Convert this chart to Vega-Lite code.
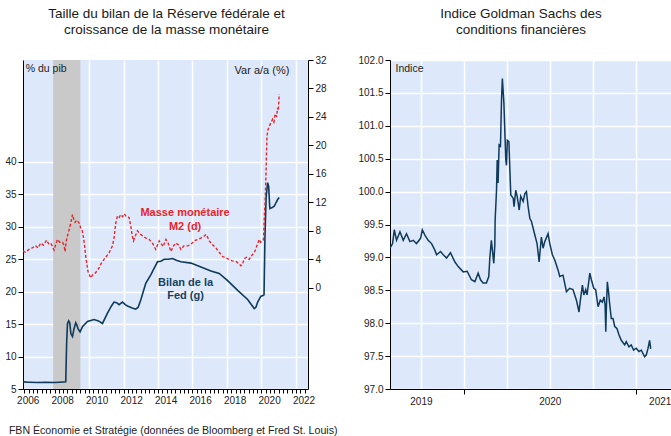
{
  "$schema": "https://vega.github.io/schema/vega-lite/v6.json",
  "padding": {"left": 4, "top": 6, "right": 0, "bottom": 4},
  "background": "#ffffff",
  "config": {
    "font": "Liberation Sans",
    "view": {"fill": "#dde9fb", "stroke": null},
    "axis": {"labelFont": "Liberation Sans", "labelFontSize": 10, "labelColor": "#222222", "domainColor": "#000000", "domainWidth": 1, "tickColor": "#000000", "tickSize": 5, "labelPadding": 2, "gridColor": "#ffffff", "gridWidth": 1.5, "labelOverlap": false},
    "title": {"font": "Liberation Sans", "fontSize": 13.5, "fontWeight": "normal", "color": "#1a1a1a", "lineHeight": 16},
    "concat": {"spacing": 30}
  },
  "title": {"text": "FBN Économie et Stratégie (données de Bloomberg et Fred St. Louis)", "orient": "bottom", "anchor": "start", "fontSize": 10.6, "fontWeight": "normal", "color": "#222222", "offset": 20, "dx": 4},
  "datasets": {
    "fed": [
      {"annee": 2006.17, "valeur": 6.1}, {"annee": 2006.5, "valeur": 6.05}, {"annee": 2007.0, "valeur": 6.0}, {"annee": 2007.5, "valeur": 6.05}, {"annee": 2007.97, "valeur": 6.0}, {"annee": 2008.3, "valeur": 6.05}, {"annee": 2008.65, "valeur": 6.1},
      {"annee": 2008.7, "valeur": 12.0}, {"annee": 2008.75, "valeur": 15.1}, {"annee": 2008.82, "valeur": 15.5}, {"annee": 2008.88, "valeur": 15.2}, {"annee": 2008.95, "valeur": 13.5}, {"annee": 2009.04, "valeur": 13.1}, {"annee": 2009.13, "valeur": 14.3}, {"annee": 2009.23, "valeur": 15.2}, {"annee": 2009.3, "valeur": 14.8}, {"annee": 2009.36, "valeur": 14.3}, {"annee": 2009.48, "valeur": 13.8}, {"annee": 2009.62, "valeur": 14.6}, {"annee": 2009.91, "valeur": 15.4},
      {"annee": 2010.29, "valeur": 15.7}, {"annee": 2010.55, "valeur": 15.5}, {"annee": 2010.78, "valeur": 15.1}, {"annee": 2011.07, "valeur": 16.7}, {"annee": 2011.3, "valeur": 17.8}, {"annee": 2011.45, "valeur": 18.4}, {"annee": 2011.6, "valeur": 18.3}, {"annee": 2011.74, "valeur": 18.0}, {"annee": 2011.94, "valeur": 18.4}, {"annee": 2012.1, "valeur": 18.0}, {"annee": 2012.23, "valeur": 17.8}, {"annee": 2012.5, "valeur": 17.5}, {"annee": 2012.71, "valeur": 17.3}, {"annee": 2012.85, "valeur": 17.6},
      {"annee": 2013.0, "valeur": 18.7}, {"annee": 2013.29, "valeur": 21.3}, {"annee": 2013.58, "valeur": 22.6}, {"annee": 2013.97, "valeur": 24.6}, {"annee": 2014.16, "valeur": 24.7}, {"annee": 2014.36, "valeur": 25.0}, {"annee": 2014.6, "valeur": 25.0}, {"annee": 2014.84, "valeur": 25.1}, {"annee": 2015.1, "valeur": 24.8}, {"annee": 2015.33, "valeur": 24.6}, {"annee": 2015.91, "valeur": 24.4}, {"annee": 2016.49, "valeur": 23.8}, {"annee": 2017.07, "valeur": 23.2}, {"annee": 2017.55, "valeur": 22.8}, {"annee": 2018.04, "valeur": 21.7}, {"annee": 2018.62, "valeur": 20.2}, {"annee": 2019.2, "valeur": 18.8}, {"annee": 2019.58, "valeur": 17.4}, {"annee": 2019.68, "valeur": 17.6}, {"annee": 2019.78, "valeur": 18.4}, {"annee": 2019.97, "valeur": 19.3}, {"annee": 2020.1, "valeur": 19.4}, {"annee": 2020.15, "valeur": 19.5},
      {"annee": 2020.2, "valeur": 28.0}, {"annee": 2020.27, "valeur": 34.5}, {"annee": 2020.36, "valeur": 36.8}, {"annee": 2020.42, "valeur": 36.2}, {"annee": 2020.47, "valeur": 33.5}, {"annee": 2020.49, "valeur": 32.8}, {"annee": 2020.65, "valeur": 33.0}, {"annee": 2020.75, "valeur": 33.2}, {"annee": 2020.84, "valeur": 33.7}, {"annee": 2020.94, "valeur": 34.2}, {"annee": 2021.03, "valeur": 34.5}
    ],
    "m2": [
      {"annee": 2006.17, "valeur": 5.2}, {"annee": 2006.3, "valeur": 5.0}, {"annee": 2006.52, "valeur": 5.4}, {"annee": 2006.7, "valeur": 5.6}, {"annee": 2006.91, "valeur": 5.9}, {"annee": 2007.05, "valeur": 5.6}, {"annee": 2007.2, "valeur": 6.3}, {"annee": 2007.35, "valeur": 6.0}, {"annee": 2007.54, "valeur": 6.7}, {"annee": 2007.65, "valeur": 6.2}, {"annee": 2007.78, "valeur": 6.3}, {"annee": 2007.97, "valeur": 5.3}, {"annee": 2008.08, "valeur": 6.2}, {"annee": 2008.17, "valeur": 6.8}, {"annee": 2008.3, "valeur": 6.4}, {"annee": 2008.46, "valeur": 6.4}, {"annee": 2008.55, "valeur": 6.0}, {"annee": 2008.61, "valeur": 5.1}, {"annee": 2008.68, "valeur": 6.6}, {"annee": 2008.75, "valeur": 7.3}, {"annee": 2008.85, "valeur": 8.2}, {"annee": 2008.94, "valeur": 9.1}, {"annee": 2009.04, "valeur": 10.3}, {"annee": 2009.12, "valeur": 9.6}, {"annee": 2009.19, "valeur": 9.2}, {"annee": 2009.28, "valeur": 9.5}, {"annee": 2009.36, "valeur": 9.3}, {"annee": 2009.45, "valeur": 9.0}, {"annee": 2009.52, "valeur": 8.4}, {"annee": 2009.6, "valeur": 8.1}, {"annee": 2009.68, "valeur": 7.0}, {"annee": 2009.75, "valeur": 5.8}, {"annee": 2009.81, "valeur": 4.4}, {"annee": 2009.94, "valeur": 2.3},
      {"annee": 2010.1, "valeur": 1.4}, {"annee": 2010.2, "valeur": 1.8}, {"annee": 2010.29, "valeur": 1.9}, {"annee": 2010.4, "valeur": 2.2}, {"annee": 2010.58, "valeur": 2.8}, {"annee": 2010.7, "valeur": 3.4}, {"annee": 2010.87, "valeur": 4.0}, {"annee": 2011.0, "valeur": 4.4}, {"annee": 2011.16, "valeur": 4.9}, {"annee": 2011.36, "valeur": 5.9}, {"annee": 2011.45, "valeur": 7.0}, {"annee": 2011.55, "valeur": 9.1}, {"annee": 2011.65, "valeur": 10.1}, {"annee": 2011.75, "valeur": 9.9}, {"annee": 2011.84, "valeur": 10.3}, {"annee": 2011.95, "valeur": 10.0}, {"annee": 2012.05, "valeur": 10.4}, {"annee": 2012.13, "valeur": 10.1}, {"annee": 2012.32, "valeur": 9.9}, {"annee": 2012.42, "valeur": 8.7}, {"annee": 2012.5, "valeur": 7.4}, {"annee": 2012.58, "valeur": 6.6}, {"annee": 2012.7, "valeur": 7.4}, {"annee": 2012.81, "valeur": 8.0}, {"annee": 2012.95, "valeur": 7.6},
      {"annee": 2013.1, "valeur": 7.3}, {"annee": 2013.3, "valeur": 7.0}, {"annee": 2013.49, "valeur": 6.8}, {"annee": 2013.7, "valeur": 6.2}, {"annee": 2013.87, "valeur": 5.4}, {"annee": 2014.07, "valeur": 6.6}, {"annee": 2014.16, "valeur": 6.3}, {"annee": 2014.3, "valeur": 5.8}, {"annee": 2014.46, "valeur": 6.8}, {"annee": 2014.6, "valeur": 6.2}, {"annee": 2014.75, "valeur": 5.1}, {"annee": 2014.9, "valeur": 5.9}, {"annee": 2015.04, "valeur": 6.3}, {"annee": 2015.2, "valeur": 6.0}, {"annee": 2015.33, "valeur": 5.4}, {"annee": 2015.5, "valeur": 5.9}, {"annee": 2015.72, "valeur": 5.9}, {"annee": 2015.9, "valeur": 6.1}, {"annee": 2016.1, "valeur": 6.6}, {"annee": 2016.3, "valeur": 6.8}, {"annee": 2016.49, "valeur": 7.0}, {"annee": 2016.65, "valeur": 7.2}, {"annee": 2016.78, "valeur": 7.5}, {"annee": 2016.88, "valeur": 7.1}, {"annee": 2016.97, "valeur": 6.6},
      {"annee": 2017.15, "valeur": 6.1}, {"annee": 2017.36, "valeur": 5.6}, {"annee": 2017.55, "valeur": 5.0}, {"annee": 2017.75, "valeur": 4.4}, {"annee": 2017.95, "valeur": 4.2}, {"annee": 2018.13, "valeur": 4.0}, {"annee": 2018.3, "valeur": 3.8}, {"annee": 2018.52, "valeur": 3.7}, {"annee": 2018.7, "valeur": 3.4}, {"annee": 2018.81, "valeur": 3.1}, {"annee": 2018.9, "valeur": 3.3}, {"annee": 2019.0, "valeur": 4.1}, {"annee": 2019.15, "valeur": 4.3}, {"annee": 2019.29, "valeur": 4.0}, {"annee": 2019.45, "valeur": 4.6}, {"annee": 2019.58, "valeur": 4.9}, {"annee": 2019.72, "valeur": 5.8}, {"annee": 2019.87, "valeur": 6.8}, {"annee": 2019.95, "valeur": 6.4}, {"annee": 2020.07, "valeur": 6.6}, {"annee": 2020.12, "valeur": 6.8},
      {"annee": 2020.16, "valeur": 9.6}, {"annee": 2020.22, "valeur": 12.5}, {"annee": 2020.26, "valeur": 15.7}, {"annee": 2020.32, "valeur": 21.3}, {"annee": 2020.38, "valeur": 22.2}, {"annee": 2020.45, "valeur": 22.7}, {"annee": 2020.55, "valeur": 23.2}, {"annee": 2020.65, "valeur": 23.7}, {"annee": 2020.72, "valeur": 23.3}, {"annee": 2020.78, "valeur": 24.2}, {"annee": 2020.84, "valeur": 24.4}, {"annee": 2020.88, "valeur": 24.0}, {"annee": 2020.94, "valeur": 25.3}, {"annee": 2020.98, "valeur": 24.9}, {"annee": 2021.03, "valeur": 27.2}
    ],
    "fci": [
      {"annee": 2019.570, "valeur": 99.14}, {"annee": 2019.585, "valeur": 99.21}, {"annee": 2019.595, "valeur": 99.42}, {"annee": 2019.608, "valeur": 99.26}, {"annee": 2019.628, "valeur": 99.39}, {"annee": 2019.647, "valeur": 99.26}, {"annee": 2019.666, "valeur": 99.36}, {"annee": 2019.686, "valeur": 99.24}, {"annee": 2019.705, "valeur": 99.26}, {"annee": 2019.724, "valeur": 99.21}, {"annee": 2019.748, "valeur": 99.29}, {"annee": 2019.758, "valeur": 99.42}, {"annee": 2019.773, "valeur": 99.34}, {"annee": 2019.792, "valeur": 99.26}, {"annee": 2019.812, "valeur": 99.21}, {"annee": 2019.831, "valeur": 99.11}, {"annee": 2019.841, "valeur": 99.04}, {"annee": 2019.864, "valeur": 99.09}, {"annee": 2019.880, "valeur": 99.04}, {"annee": 2019.899, "valeur": 98.99}, {"annee": 2019.922, "valeur": 99.07}, {"annee": 2019.948, "valeur": 98.93}, {"annee": 2019.967, "valeur": 98.86}, {"annee": 2019.996, "valeur": 98.78},
      {"annee": 2020.019, "valeur": 98.79}, {"annee": 2020.044, "valeur": 98.66}, {"annee": 2020.064, "valeur": 98.63}, {"annee": 2020.083, "valeur": 98.76}, {"annee": 2020.097, "valeur": 98.66}, {"annee": 2020.112, "valeur": 98.61}, {"annee": 2020.131, "valeur": 98.61}, {"annee": 2020.145, "valeur": 98.71}, {"annee": 2020.151, "valeur": 98.99}, {"annee": 2020.160, "valeur": 99.26}, {"annee": 2020.166, "valeur": 99.11}, {"annee": 2020.174, "valeur": 98.91}, {"annee": 2020.180, "valeur": 99.18}, {"annee": 2020.182, "valeur": 99.57}, {"annee": 2020.190, "valeur": 100.02}, {"annee": 2020.194, "valeur": 100.48}, {"annee": 2020.199, "valeur": 100.13}, {"annee": 2020.205, "valeur": 100.71}, {"annee": 2020.213, "valeur": 100.69}, {"annee": 2020.219, "valeur": 101.39}, {"annee": 2020.224, "valeur": 101.72}, {"annee": 2020.233, "valeur": 101.34}, {"annee": 2020.238, "valeur": 100.94}, {"annee": 2020.244, "valeur": 100.48}, {"annee": 2020.248, "valeur": 100.40}, {"annee": 2020.253, "valeur": 100.78}, {"annee": 2020.262, "valeur": 100.76}, {"annee": 2020.267, "valeur": 100.38}, {"annee": 2020.273, "valeur": 99.95}, {"annee": 2020.287, "valeur": 99.90}, {"annee": 2020.292, "valeur": 99.77}, {"annee": 2020.302, "valeur": 100.02}, {"annee": 2020.310, "valeur": 99.93}, {"annee": 2020.322, "valeur": 99.72}, {"annee": 2020.331, "valeur": 99.93}, {"annee": 2020.345, "valeur": 99.85}, {"annee": 2020.355, "valeur": 99.97}, {"annee": 2020.364, "valeur": 100.00}, {"annee": 2020.374, "valeur": 99.77}, {"annee": 2020.384, "valeur": 99.59}, {"annee": 2020.393, "valeur": 99.55}, {"annee": 2020.413, "valeur": 99.34}, {"annee": 2020.426, "valeur": 99.21}, {"annee": 2020.438, "valeur": 98.93}, {"annee": 2020.451, "valeur": 99.31}, {"annee": 2020.461, "valeur": 99.14}, {"annee": 2020.471, "valeur": 99.24}, {"annee": 2020.490, "valeur": 99.36}, {"annee": 2020.500, "valeur": 99.21}, {"annee": 2020.515, "valeur": 99.04}, {"annee": 2020.529, "valeur": 98.96}, {"annee": 2020.548, "valeur": 98.81}, {"annee": 2020.558, "valeur": 98.71}, {"annee": 2020.577, "valeur": 98.73}, {"annee": 2020.597, "valeur": 98.48}, {"annee": 2020.616, "valeur": 98.53}, {"annee": 2020.635, "valeur": 98.51}, {"annee": 2020.655, "valeur": 98.35}, {"annee": 2020.670, "valeur": 98.17}, {"annee": 2020.678, "valeur": 98.35}, {"annee": 2020.690, "valeur": 98.58}, {"annee": 2020.698, "valeur": 98.43}, {"annee": 2020.709, "valeur": 98.51}, {"annee": 2020.717, "valeur": 98.43}, {"annee": 2020.733, "valeur": 98.76}, {"annee": 2020.742, "valeur": 98.66}, {"annee": 2020.756, "valeur": 98.53}, {"annee": 2020.767, "valeur": 98.51}, {"annee": 2020.781, "valeur": 98.25}, {"annee": 2020.794, "valeur": 98.35}, {"annee": 2020.806, "valeur": 98.32}, {"annee": 2020.816, "valeur": 98.40}, {"annee": 2020.822, "valeur": 98.27}, {"annee": 2020.826, "valeur": 97.87}, {"annee": 2020.829, "valeur": 98.20}, {"annee": 2020.835, "valeur": 98.63}, {"annee": 2020.843, "valeur": 98.45}, {"annee": 2020.849, "valeur": 98.28}, {"annee": 2020.858, "valeur": 98.07}, {"annee": 2020.868, "valeur": 98.07}, {"annee": 2020.878, "valeur": 97.95}, {"annee": 2020.891, "valeur": 97.92}, {"annee": 2020.903, "valeur": 97.82}, {"annee": 2020.916, "valeur": 97.74}, {"annee": 2020.936, "valeur": 97.67}, {"annee": 2020.945, "valeur": 97.72}, {"annee": 2020.961, "valeur": 97.64}, {"annee": 2020.974, "valeur": 97.67}, {"annee": 2020.988, "valeur": 97.59},
      {"annee": 2021.003, "valeur": 97.62}, {"annee": 2021.019, "valeur": 97.57}, {"annee": 2021.033, "valeur": 97.59}, {"annee": 2021.042, "valeur": 97.54}, {"annee": 2021.052, "valeur": 97.49}, {"annee": 2021.062, "valeur": 97.52}, {"annee": 2021.072, "valeur": 97.62}, {"annee": 2021.081, "valeur": 97.74}, {"annee": 2021.087, "valeur": 97.62}, {"annee": 2021.091, "valeur": 97.62}
    ]
  },
  "hconcat": [
    {
      "title": {"text": ["Taille du bilan de la Réserve fédérale et", "croissance de la masse monétaire"], "anchor": "middle", "offset": 19, "dx": 1},
      "width": 285,
      "height": 329,
      "encoding": {
        "x": {"field": "annee", "type": "quantitative", "title": null,
          "scale": {"domain": [2006.17, 2022.7], "nice": false, "zero": false},
          "axis": {
            "values": [2006.25,2006.5,2006.75,2007,2007.25,2007.5,2007.75,2008,2008.25,2008.5,2008.75,2009,2009.25,2009.5,2009.75,2010,2010.25,2010.5,2010.75,2011,2011.25,2011.5,2011.75,2012,2012.25,2012.5,2012.75,2013,2013.25,2013.5,2013.75,2014,2014.25,2014.5,2014.75,2015,2015.25,2015.5,2015.75,2016,2016.25,2016.5,2016.75,2017,2017.25,2017.5,2017.75,2018,2018.25,2018.5,2018.75,2019,2019.25,2019.5,2019.75,2020,2020.25,2020.5,2020.75,2021,2021.25,2021.5,2021.75,2022,2022.25,2022.5],
            "labelExpr": "datum.value % 2 == 0.5 ? '' + (datum.value - 0.5) : ''",
            "labelOverlap": false, "labelFlush": false, "labelBound": false, "labelOffset": -1,
            "tickSize": 4,
            "gridOpacity": {"condition": {"test": "datum.value % 2 == 0", "value": 1}, "value": 0}
          }
        }
      },
      "layer": [
        {
          "encoding": {
            "y": {"field": "valeur", "type": "quantitative", "title": null,
              "scale": {"domain": [5, 55.7], "nice": false, "zero": false},
              "axis": {"orient": "left", "values": [5, 10, 15, 20, 25, 30, 35, 40], "grid": true, "labelOverlap": false}
            }
          },
          "layer": [
            {
              "data": {"values": [{"annee": 2007.917, "annee_fin": 2009.5}]},
              "mark": {"type": "rect", "color": "#c9c9c9"},
              "encoding": {"x2": {"field": "annee_fin"}, "y": null}
            },
            {
              "data": {"name": "fed"},
              "mark": {"type": "line", "color": "#0f3a5b", "strokeWidth": 1.6, "clip": true}
            },
            {
              "data": {"values": [{"annee": 2015.6, "valeur": 21.37, "texte": "Bilan de la"}, {"annee": 2015.6, "valeur": 19.37, "texte": "Fed (g)"}]},
              "mark": {"type": "text", "color": "#17405f", "fontWeight": "bold", "fontSize": 11, "align": "center", "baseline": "middle"},
              "encoding": {"text": {"field": "texte"}}
            },
            {
              "data": {"values": [{"annee": 2006.33, "valeur": 54.3, "texte": "% du pib"}]},
              "mark": {"type": "text", "color": "#222222", "fontSize": 10.5, "align": "left", "baseline": "middle"},
              "encoding": {"text": {"field": "texte"}}
            }
          ]
        },
        {
          "encoding": {
            "y": {"field": "valeur", "type": "quantitative", "title": null,
              "scale": {"domain": [-14.2, 32], "nice": false, "zero": false},
              "axis": {"orient": "right", "values": [0, 4, 8, 12, 16, 20, 24, 28, 32], "grid": false, "labelOverlap": false}
            }
          },
          "layer": [
            {
              "data": {"name": "m2"},
              "mark": {"type": "line", "color": "#e8232b", "strokeWidth": 1.4, "strokeDash": [3, 2], "clip": true}
            },
            {
              "data": {"values": [{"annee": 2015.57, "valeur": 10.45, "texte": "Masse monétaire"}, {"annee": 2015.57, "valeur": 8.48, "texte": "M2 (d)"}]},
              "mark": {"type": "text", "color": "#e8232b", "fontWeight": "bold", "fontSize": 11, "align": "center", "baseline": "middle"},
              "encoding": {"text": {"field": "texte"}}
            },
            {
              "data": {"values": [{"annee": 2021.62, "valeur": 30.4, "texte": "Var a/a (%)"}]},
              "mark": {"type": "text", "color": "#222222", "fontSize": 11, "align": "right", "baseline": "middle"},
              "encoding": {"text": {"field": "texte"}}
            }
          ]
        }
      ],
      "resolve": {"scale": {"y": "independent"}}
    },
    {
      "title": {"text": ["Indice Goldman Sachs des", "conditions financières"], "anchor": "middle", "offset": 19, "dx": -11},
      "width": 284,
      "height": 329,
      "encoding": {
        "x": {"field": "annee", "type": "quantitative", "title": null,
          "scale": {"domain": [2019.57, 2021.223], "nice": false, "zero": false},
          "axis": {
            "values": [2019.75, 2020, 2020.25, 2020.5, 2020.75, 2021, 2021.14],
            "labelExpr": "datum.value == 2019.75 ? '2019' : (datum.value == 2020.5 ? '2020' : (datum.value > 2021.1 ? '2021' : ''))",
            "labelOverlap": false, "labelFlush": false, "labelBound": false,
            "tickSize": 5,
            "tickOpacity": {"condition": {"test": "datum.value == 2020 || datum.value == 2021", "value": 1}, "value": 0},
            "gridOpacity": {"condition": {"test": "datum.value > 2021.1", "value": 0}, "value": 1}
          }
        },
        "y": {"field": "valeur", "type": "quantitative", "title": null,
          "scale": {"domain": [97, 102], "nice": false, "zero": false},
          "axis": {"values": [97, 97.5, 98, 98.5, 99, 99.5, 100, 100.5, 101, 101.5, 102], "format": ".1f", "grid": true, "labelOverlap": false}
        }
      },
      "layer": [
        {
          "data": {"name": "fci"},
          "mark": {"type": "line", "color": "#0f3a5b", "strokeWidth": 1.5, "clip": true}
        },
        {
          "data": {"values": [{"annee": 2019.602, "valeur": 101.86, "texte": "Indice"}]},
          "mark": {"type": "text", "color": "#222222", "fontSize": 10.5, "align": "left", "baseline": "middle"},
          "encoding": {"text": {"field": "texte"}}
        }
      ]
    }
  ]
}
